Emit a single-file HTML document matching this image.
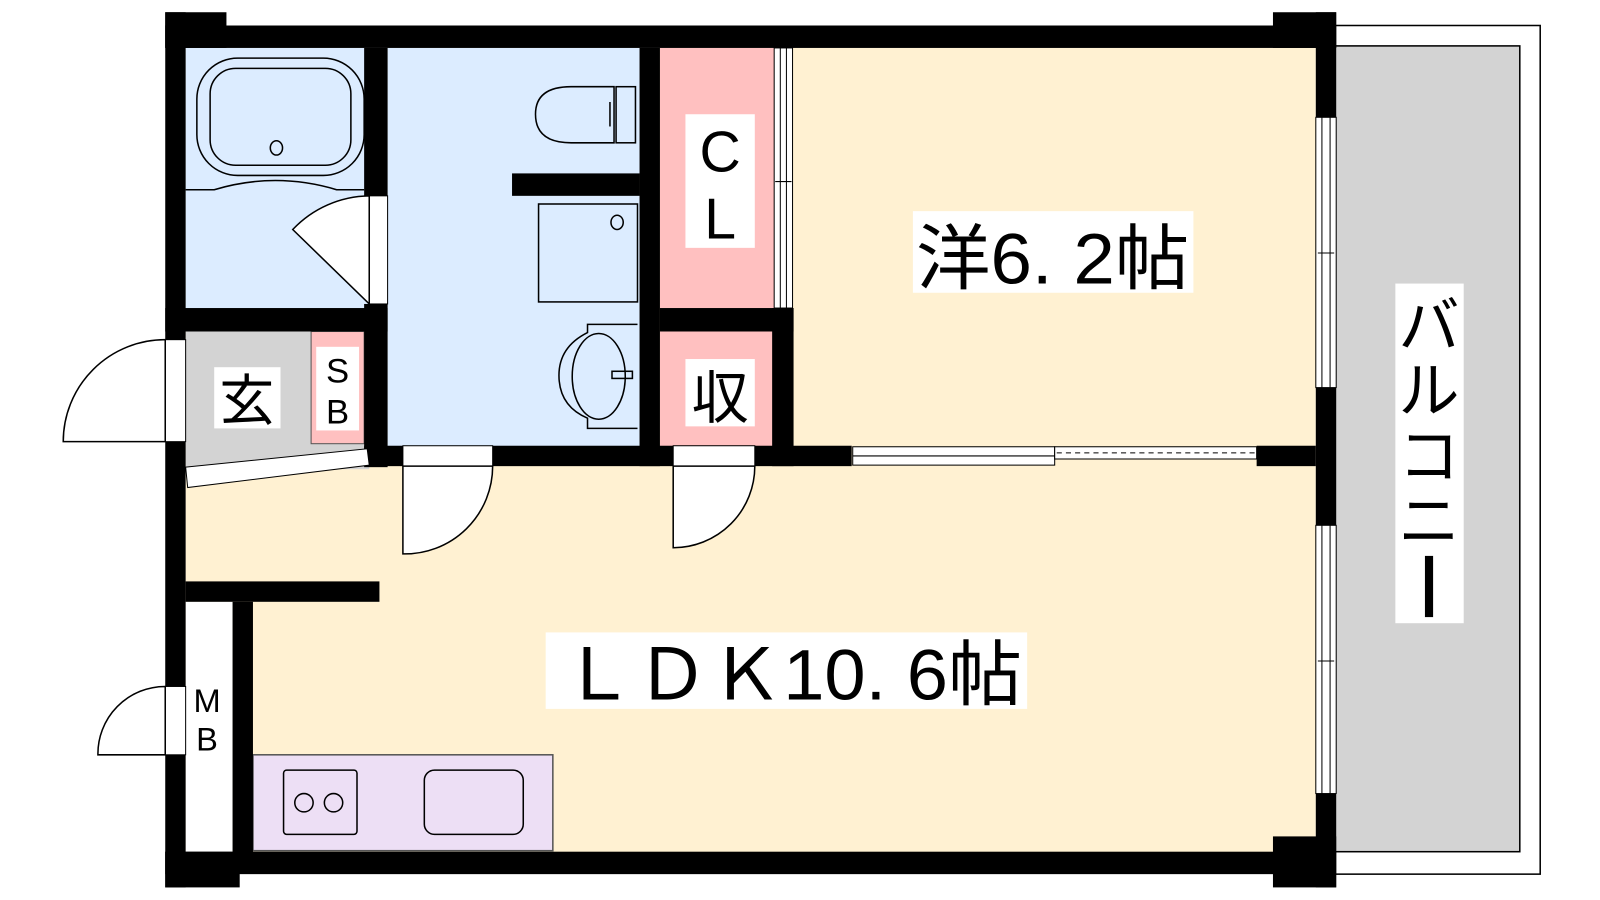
<!DOCTYPE html>
<html><head><meta charset="utf-8"><style>
html,body{margin:0;padding:0;background:#fff;}
svg{display:block;}
text{font-family:"Liberation Sans","Noto Sans CJK JP",sans-serif;fill:#000;}
</style></head><body>
<svg width="1600" height="900" viewBox="0 0 1600 900" xmlns="http://www.w3.org/2000/svg">
<rect width="1600" height="900" fill="#fff"/>
<g transform="scale(1.02)">
<!-- balcony -->
<rect x="1300" y="25" width="210" height="832" fill="#fff" stroke="#000" stroke-width="1.5"/>
<rect x="1300" y="45" width="190" height="790" fill="#d3d3d3" stroke="#000" stroke-width="1.5"/>
<!-- rooms -->
<rect x="182" y="47" width="1108" height="790" fill="#fff1d2"/>
<rect x="182" y="47" width="180" height="258" fill="#dcecff"/>
<rect x="380" y="47" width="247" height="392" fill="#dcecff"/>
<rect x="182" y="325" width="180" height="135" fill="#d3d3d3"/>
<rect x="305" y="325" width="52" height="110" fill="#ffc0c0" stroke="#555" stroke-width="1"/>
<rect x="647" y="47" width="112" height="257" fill="#ffc0c0"/>
<rect x="647" y="325" width="112" height="113" fill="#ffc0c0"/>
<rect x="182" y="590" width="46" height="247" fill="#fff"/>
<rect x="248" y="740" width="294" height="94" fill="#eddff5" stroke="#555" stroke-width="1.5"/>
<!-- walls -->
<g fill="#000">
<rect x="162" y="25" width="1148" height="22"/>
<rect x="162" y="12" width="60" height="35"/>
<rect x="1248" y="12" width="62" height="35"/>
<rect x="1290" y="12" width="20" height="103"/>
<rect x="1290" y="380" width="20" height="135"/>
<rect x="1290" y="778" width="20" height="92"/>
<rect x="1248" y="820" width="62" height="50"/>
<rect x="162" y="835" width="1148" height="22"/>
<rect x="162" y="835" width="73" height="35"/>
<rect x="162" y="12" width="20" height="321"/>
<rect x="162" y="433" width="20" height="240"/>
<rect x="162" y="740" width="20" height="130"/>
<rect x="357" y="47" width="23" height="145"/>
<rect x="357" y="298" width="23" height="160"/>
<rect x="162" y="302" width="218" height="23"/>
<rect x="627" y="47" width="20" height="410"/>
<rect x="502" y="170" width="125" height="22"/>
<rect x="647" y="302" width="131" height="23"/>
<rect x="757" y="302" width="21" height="155"/>
<rect x="357" y="437" width="38" height="20"/>
<rect x="483" y="437" width="177" height="20"/>
<rect x="740" y="437" width="95" height="20"/>
<rect x="1232" y="437" width="58" height="20"/>
<rect x="182" y="570" width="190" height="20"/>
<rect x="228" y="590" width="20" height="250"/>
</g>
<!-- windows -->
<g fill="#fff" stroke="#000" stroke-width="1">
<rect x="1290" y="115" width="20" height="265"/><line x1="1296" y1="115" x2="1296" y2="380"/><line x1="1304" y1="115" x2="1304" y2="380"/><line x1="1292" y1="248" x2="1308" y2="248"/>
<rect x="1290" y="515" width="20" height="263"/><line x1="1296" y1="515" x2="1296" y2="778"/><line x1="1304" y1="515" x2="1304" y2="778"/><line x1="1292" y1="648" x2="1308" y2="648"/>
<rect x="759" y="47" width="18" height="255"/><line x1="765" y1="47" x2="765" y2="302"/><line x1="771" y1="47" x2="771" y2="302"/><line x1="760" y1="178" x2="776" y2="178"/>
<rect x="836" y="438" width="198" height="18"/><line x1="836" y1="447" x2="1034" y2="447"/>
<rect x="1034" y="438" width="198" height="12"/>
<line x1="1036" y1="444" x2="1230" y2="444" stroke-dasharray="5,4"/>
<rect x="395" y="437" width="88" height="20"/><rect x="660" y="437" width="80" height="20"/>
<rect x="362" y="192" width="18" height="106"/>
<rect x="162" y="333" width="20" height="100"/>
<rect x="162" y="673" width="20" height="67"/>
<polygon points="182,458 360,440 362,456 184,478"/>
</g>
<!-- door swings -->
<g fill="#fff" stroke="#000" stroke-width="1.5">
<path d="M395,457 L395,543 A86,86 0 0 0 483,457 Z"/>
<path d="M660,457 L660,537 A80,80 0 0 0 740,457 Z"/>
<path d="M162,333 A100,100 0 0 0 62,433 L162,433 Z"/>
<path d="M162,673 A66,66 0 0 0 96,740 L162,740 Z"/>
<path d="M362,192 A105,105 0 0 0 287,225 L362,298 Z"/>
</g>
<!-- fixtures -->
<g fill="none" stroke="#000" stroke-width="1.5">
<rect x="193" y="57" width="164" height="115" rx="40"/>
<rect x="206" y="67" width="138" height="95" rx="25"/>
<ellipse cx="271" cy="145" rx="6" ry="7"/>
<path d="M182,186 L210,186 Q270,168 330,186 L357,186"/>
<path d="M560,85 L602,85 L602,140 L560,140 Q525,140 525,112 Q525,85 560,85 Z"/>
<rect x="604" y="85" width="19" height="55"/><line x1="598" y1="100" x2="598" y2="124"/>
<rect x="528" y="200" width="97" height="96"/>
<ellipse cx="605" cy="218" rx="6" ry="7"/>
<path d="M625,318 L576,318 L576,326 Q548,340 548,368 Q548,398 576,410 L576,420 L625,420"/>
<ellipse cx="587" cy="369" rx="26" ry="42"/>
<rect x="600" y="364" width="20" height="7"/>
<rect x="278" y="755" width="72" height="63" rx="3"/>
<circle cx="298" cy="787" r="9"/><circle cx="327" cy="787" r="9"/>
<rect x="416" y="755" width="97" height="63" rx="10"/>
</g>
<!-- labels -->
<rect x="895" y="207" width="275" height="80" fill="#fff"/>
<text x="898" y="278" font-size="70" textLength="268" lengthAdjust="spacingAndGlyphs">洋6. 2帖</text>
<rect x="535" y="620" width="472" height="75" fill="#fff"/>
<text x="550" y="686" font-size="70" textLength="452" lengthAdjust="spacingAndGlyphs">ＬＤＫ10. 6帖</text>
<rect x="672" y="112" width="68" height="131" fill="#fff"/>
<text x="706" y="168" font-size="56" text-anchor="middle">C</text>
<text x="706" y="234" font-size="56" text-anchor="middle">L</text>
<rect x="672" y="352" width="68" height="66" fill="#fff"/>
<text x="706" y="410" font-size="56" text-anchor="middle">収</text>
<rect x="210" y="360" width="65" height="60" fill="#fff"/>
<text x="242" y="412" font-size="54" text-anchor="middle">玄</text>
<rect x="310" y="340" width="42" height="82" fill="#fff"/>
<text x="331" y="375" font-size="34" text-anchor="middle">S</text>
<text x="331" y="415" font-size="34" text-anchor="middle">B</text>
<text x="203" y="698" font-size="32" text-anchor="middle">M</text>
<text x="203" y="736" font-size="32" text-anchor="middle">B</text>
<rect x="1368" y="278" width="67" height="333" fill="#fff"/>
<text x="1401" y="340" font-size="60" text-anchor="middle">バ</text>
<text x="1401" y="404" font-size="60" text-anchor="middle">ル</text>
<text x="1401" y="468" font-size="60" text-anchor="middle">コ</text>
<text x="1401" y="532" font-size="60" text-anchor="middle">ニ</text>
<rect x="1397" y="545" width="8" height="60" fill="#000"/>
</g>
</svg>
</body></html>
